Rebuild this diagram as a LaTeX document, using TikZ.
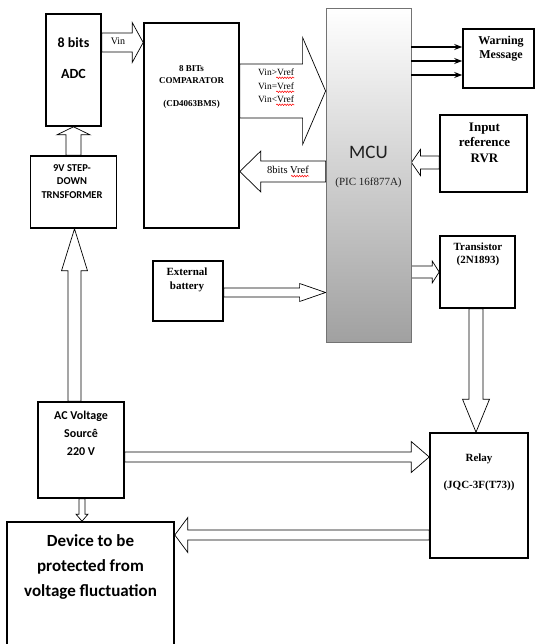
\documentclass[tikz,border=0pt]{standalone}
\usepackage{fontspec}
\setmainfont{Liberation Serif}
\newfontfamily\calib{Carlito}
\usetikzlibrary{positioning,arrows.meta,calc,decorations.pathmorphing}
\pgfdeclarelayer{bg}
\pgfsetlayers{bg,main}

\begin{document}
\begin{tikzpicture}[
  x=1pt, y=-1pt,
  box/.style={rectangle, draw, line width=1.6pt, inner sep=0pt},
  txt/.style={align=center, inner sep=0pt},
  fat/.style n args={3}{draw, line width=0.7pt, fill=white, to path={
    ($(\tikztostart)!#1pt!90:(\tikztotarget)$)
    -- ($($(\tikztotarget)!#3pt!(\tikztostart)$)!#1pt!90:(\tikztotarget)$)
    -- ($($(\tikztotarget)!#3pt!(\tikztostart)$)!#2pt!90:(\tikztotarget)$)
    -- (\tikztotarget)
    -- ($($(\tikztotarget)!#3pt!(\tikztostart)$)!#2pt!-90:(\tikztotarget)$)
    -- ($($(\tikztotarget)!#3pt!(\tikztostart)$)!#1pt!-90:(\tikztotarget)$)
    -- ($(\tikztostart)!#1pt!-90:(\tikztotarget)$) -- cycle}},
  wavy/.style={red, line width=0.5pt, decorate, decoration={snake, amplitude=0.8pt, segment length=2.6pt}},
  >=Stealth
]
  \useasboundingbox (0,0) rectangle (536,644);

  % blocks
  \node[box, minimum width=55pt, minimum height=112pt] (adc) at (73.5,70) {};
  \node[box, minimum width=95pt, minimum height=205pt] (cmp) at (191.5,125.5) {};
  \node[box, minimum width=86pt, minimum height=72pt] (trf) at (73.5,192) {};
  \node[rectangle, draw=black!55, line width=0.8pt, top color=white, bottom color=black!37,
        minimum width=85pt, minimum height=334pt] (mcu) at (368.5,175) {};
  \node[box, minimum width=71pt, minimum height=59pt] (warn) at (498.5,58.5) {};
  \node[box, minimum width=87pt, minimum height=77pt] (rvr) at (483.5,153.5) {};
  \node[box, minimum width=75pt, minimum height=72pt] (trans) at (477.5,272) {};
  \node[box, minimum width=70pt, minimum height=60pt] (bat) at (188,291) {};
  \node[box, minimum width=86pt, minimum height=96pt] (ac) at (81,450) {};
  \node[box, minimum width=98pt, minimum height=125pt] (relay) at (479,495.5) {};
  \node[box, minimum width=167pt, minimum height=126pt] (dev) at (90.5,585) {};

  % texts
  \node[txt, font=\calib\bfseries\fontsize{14}{31}\selectfont] (adctxt) at (73.5,58.5) {8 bits\\ADC};
  \node[txt, font=\bfseries\fontsize{9}{12}\selectfont] (cmptxt) at (191.5,86.5) {8 BITs\\COMPARATOR\\[11pt](CD4063BMS)};
  \node[txt, font=\calib\bfseries\fontsize{10.5}{13.5}\selectfont] (trftxt) at (72,181.5) {9V STEP-\\DOWN\\TRNSFORMER};
  \node[txt, font=\calib\fontsize{19}{22}\selectfont, text=black!88] (mcutxt) at (368.5,152) {MCU};
  \node[txt, font=\fontsize{11}{13}\selectfont, text=black!88] (pictxt) at (368.5,183) {(PIC 16f877A)};
  \node[txt, font=\bfseries\fontsize{12}{14}\selectfont] (warntxt) at (501,49) {Warning\\Message};
  \node[txt, font=\bfseries\fontsize{13}{15.5}\selectfont] (rvrtxt) at (484.5,142.5) {Input\\reference\\RVR};
  \node[txt, font=\bfseries\fontsize{11}{13}\selectfont] (transtxt) at (478,254.5) {Transistor\\(2N1893)};
  \node[txt, font=\bfseries\fontsize{11}{14}\selectfont] (battxt) at (187,280) {External\\battery};
  \node[txt, font=\calib\bfseries\fontsize{12}{18}\selectfont] (actxt) at (81,433) {AC Voltage\\Sourcê\\220 V};
  \node[txt, font=\bfseries\fontsize{11}{27}\selectfont] (relaytxt) at (479,472.5) {Relay\\(JQC-3F(T73))};
  \node[txt, font=\calib\bfseries\fontsize{17}{25}\selectfont] (devtxt) at (90.5,567) {Device to be\\protected from\\voltage fluctuation};

  % block arrows
  \begin{pgfonlayer}{bg}
    \draw[fat={9.5}{20}{11}] ($(adc.east)+(0,-27.5)$) to ($(cmp.west)+(0,-83)$);
    \draw[fat={7.5}{16.5}{8}] (trf.north) to (adc.south);
    \draw[fat={27}{53.5}{23}] ($(cmp.east)+(0,-34.5)$) to ($(mcu.west)+(0,-84)$);
    \draw[fat={10.5}{20.5}{21}] ($(mcu.west)+(0,-3.5)$) to ($(cmp.east)+(0,46)$);
    \draw[fat={6.5}{13}{9}] ($(rvr.west)+(0,9)$) to ($(mcu.east)+(0,-12.5)$);
    \draw[fat={6}{11}{7}] ($(mcu.east)+(0,97)$) to (trans.west);
    \draw[fat={7}{13.5}{33}] ($(trans.south)+(-1.5,0)$) to ($(relay.north)+(-3,0)$);
    \draw[fat={4.5}{9}{26}] ($(bat.east)+(0,1.5)$) to ($(mcu.west)+(0,117.5)$);
    \draw[fat={6.5}{13}{42}] ($(ac.north)+(-6.5,0)$) to ($(trf.south)+(1,0)$);
    \draw[fat={5}{15.5}{18}] ($(ac.east)+(0,7)$) to ($(relay.west)+(0,-38.5)$);
    \draw[fat={5}{17.5}{13}] ($(relay.west)+(0,39.5)$) to ($(dev.east)+(0,-50)$);
    \draw[fat={3}{6}{7}] ($(ac.south)+(1,0)$) to ($(dev.north)+(-8.5,0)$);
  \end{pgfonlayer}

  % arrow labels
  \node[txt, font=\fontsize{10}{12}\selectfont] (vintxt) at (118,41) {Vin};
  \node[txt, anchor=west, font=\fontsize{9.5}{12}\selectfont] (vgt) at (258,72) {Vin>Vref};
  \node[txt, anchor=west, font=\fontsize{9.5}{12}\selectfont] (veq) at (258,86) {Vin=Vref};
  \node[txt, anchor=west, font=\fontsize{9.5}{12}\selectfont] (vlt) at (258,99) {Vin<Vref};
  \node[txt, font=\fontsize{10.5}{12}\selectfont] (vreftxt) at (288,170) {8bits Vref};
  \foreach \n in {vgt,veq,vlt,vreftxt}
    \draw[wavy] ($(\n.base east)+(-18,2.5)$) -- ($(\n.base east)+(0,2.5)$);

  % warning lines
  \foreach \dy in {-14,0,14}
    \draw[->, line width=1.1pt] ($(mcu.east)+(0,\dy-114)$) -- ($(warn.west)+(0,\dy+2.5)$);
\end{tikzpicture}
\end{document}
